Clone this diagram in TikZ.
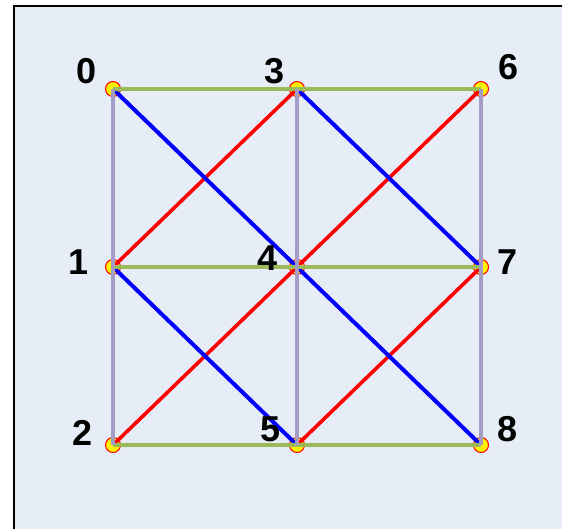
\documentclass[tikz,border=0pt]{standalone}
\usepackage{fontspec}
\setmainfont{Liberation Sans}
\definecolor{bgblue}{HTML}{E6EDF7}
\definecolor{edgegreen}{HTML}{9BBB59}
\definecolor{edgepurple}{HTML}{A49CC4}
\begin{document}
\begin{tikzpicture}[x=1pt,y=-1pt,
  vert/.style={circle,fill=yellow,draw=red,line width=1pt,minimum size=15pt,inner sep=0pt},
  lab/.style={font=\bfseries\fontsize{36}{36}\selectfont,text=black,inner sep=0pt},
  hedge/.style={draw=edgegreen,line width=4.5pt},
  vedge/.style={draw=edgepurple,line width=4.5pt},
  bedge/.style={draw=blue,line width=4pt},
  redge/.style={draw=red,line width=3.6pt}]
\useasboundingbox (0,0) rectangle (562,528);
\fill[bgblue] (14,6) rectangle (570,540);
\draw[black,line width=1.5pt] (14,540) -- (14,6) -- (570,6);
% vertices
\node[vert] (n0) at (113,89) {};
\node[vert] (n1) at (113,267) {};
\node[vert] (n2) at (113,445) {};
\node[vert] (n3) at (297,89) {};
\node[vert] (n4) at (297,267) {};
\node[vert] (n5) at (297,445) {};
\node[vert] (n6) at (481,89) {};
\node[vert] (n7) at (481,267) {};
\node[vert] (n8) at (481,445) {};
% red diagonals
\draw[redge] (n1.center) -- (n3.center);
\draw[redge] (n2.center) -- (n4.center);
\draw[redge] (n4.center) -- (n6.center);
\draw[redge] (n5.center) -- (n7.center);
% blue diagonals
\draw[bedge] (n0.center) -- (n4.center);
\draw[bedge] (n4.center) -- (n8.center);
\draw[bedge] (n3.center) -- (n7.center);
\draw[bedge] (n1.center) -- (n5.center);
% green horizontals
\draw[hedge] (n0.center) -- (n3.center);
\draw[hedge] (n3.center) -- (n6.center);
\draw[hedge] (n1.center) -- (n4.center);
\draw[hedge] (n4.center) -- (n7.center);
\draw[hedge] (n2.center) -- (n5.center);
\draw[hedge] (n5.center) -- (n8.center);
% purple verticals
\draw[vedge] (n0.center) -- (n1.center);
\draw[vedge] (n1.center) -- (n2.center);
\draw[vedge] (n3.center) -- (n4.center);
\draw[vedge] (n4.center) -- (n5.center);
\draw[vedge] (n6.center) -- (n7.center);
\draw[vedge] (n7.center) -- (n8.center);
% labels
\node[lab] (l0) at (87,71) {0};
\node[lab] (l1) at (79,262) {1};
\node[lab] (l2) at (83,433) {2};
\node[lab] (l3) at (275,71) {3};
\node[lab] (l4) at (268,258) {4};
\node[lab] (l5) at (271,429) {5};
\node[lab] (l6) at (509,67) {6};
\node[lab] (l7) at (508,262) {7};
\node[lab] (l8) at (508,429) {8};
\end{tikzpicture}
\end{document}
